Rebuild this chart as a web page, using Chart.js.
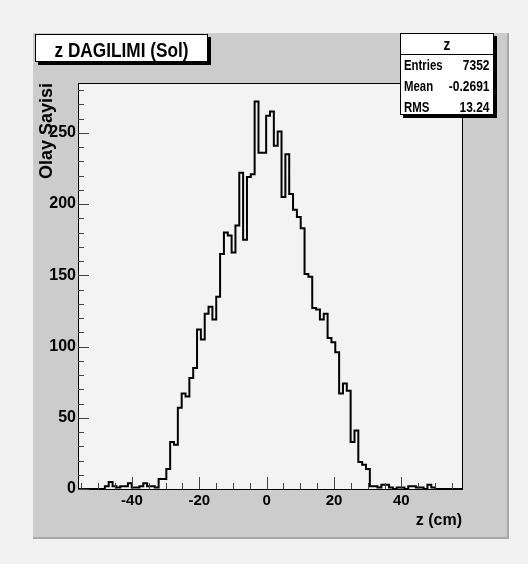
<!DOCTYPE html>
<html><head><meta charset="utf-8">
<script src="https://cdn.jsdelivr.net/npm/chart.js@4.4.0/dist/chart.umd.min.js"></script>
<style>html,body{margin:0;padding:0;background:#f2f2f2;}#wrap{width:528px;height:564px;}</style>
</head><body><div id="wrap"><canvas id="c" width="528" height="564"></canvas></div>
<script>
const histTitle = 'z DAGILIMI (Sol)';
const xAxisTitle = 'z (cm)';
const yAxisTitle = 'Olay Sayisi';
const xMin = -56, xMax = 58, nBins = 100;
const yMin = 0, yMax = 285;
const binCounts = [
  0,0,0,0,0,0,0,2,5,2,
  1,2,2,4,1,1,2,4,2,2,
  1,7,7,14,33,31,57,67,65,78,
  85,112,105,123,128,119,135,165,180,178,
  166,185,222,175,219,221,272,236,236,262,
  265,241,251,205,235,207,196,191,183,151,
  149,127,126,119,123,106,103,96,67,74,
  69,33,41,19,17,14,2,2,1,3,
  3,1,0,1,1,0,2,2,1,1,
  0,3,1,0,0,0,0,0,0,0
];
const xTickValues = [-40, -20, 0, 20, 40];
const yTickValues = [0, 50, 100, 150, 200, 250];
const xMinorStep = 5, yMinorStep = 10;
const statsName = 'z';
const statsLabels = ['Entries', 'Mean', 'RMS'];
const statsValues = ['7352', '-0.2691', '13.24'];

const FONT = "'Liberation Sans', Arial, Helvetica, sans-serif";
const binWidth = (xMax - xMin) / nBins;
const points = binCounts.map((v, i) => ({x: xMin + i * binWidth, y: v}));
points.push({x: xMax, y: binCounts[binCounts.length - 1]});

function condensedText(ctx, text, x, y, size, sx, align) {
  ctx.save();
  ctx.font = 'bold ' + size + 'px ' + FONT;
  ctx.textAlign = align;
  ctx.textBaseline = 'alphabetic';
  ctx.translate(x, y);
  ctx.scale(sx, 1);
  ctx.fillStyle = '#000';
  ctx.fillText(text, 0, 0);
  ctx.restore();
}

const rootStyle = {
  id: 'rootStyle',
  beforeDraw(chart) {
    const ctx = chart.ctx, a = chart.chartArea;
    ctx.save();
    ctx.fillStyle = '#f2f2f2';
    ctx.fillRect(0, 0, chart.width, chart.height);
    ctx.fillStyle = '#cccccc';
    ctx.fillRect(33, 33, 476, 506);
    ctx.fillStyle = '#a8a8a8';
    ctx.fillRect(507, 33, 2, 506);
    ctx.fillRect(33, 537, 476, 2);
    ctx.fillStyle = '#f3f3f3';
    ctx.fillRect(a.left, a.top, a.right - a.left, a.bottom - a.top);
    ctx.restore();
  },
  afterDraw(chart) {
    const ctx = chart.ctx, a = chart.chartArea;
    const xs = chart.scales.x, ys = chart.scales.y;
    ctx.save();
    ctx.strokeStyle = '#000';
    ctx.lineWidth = 1;
    ctx.beginPath();
    ctx.moveTo(a.left, a.top + 0.5); ctx.lineTo(a.right + 0.5, a.top + 0.5); ctx.lineTo(a.right + 0.5, a.bottom);
    ctx.stroke();
    ctx.strokeStyle = '#444';
    ctx.beginPath();
    for (let v = yMin; v < yMax; v += yMinorStep) {
      const y = Math.round(ys.getPixelForValue(v)) + 0.5;
      const len = yTickValues.includes(v) ? 11 : 6;
      ctx.moveTo(a.left, y); ctx.lineTo(a.left + len, y);
    }
    for (let v = -55; v < xMax; v += xMinorStep) {
      const x = Math.round(xs.getPixelForValue(v)) + 0.5;
      const len = xTickValues.includes(v) ? 12 : 6;
      ctx.moveTo(x, a.bottom); ctx.lineTo(x, a.bottom - len);
    }
    ctx.stroke();
    // title box
    ctx.fillStyle = '#000';
    ctx.fillRect(38, 62, 173, 3);
    ctx.fillRect(208, 37, 3, 28);
    ctx.fillStyle = '#fff';
    ctx.fillRect(35, 34, 173, 28);
    ctx.strokeStyle = '#000';
    ctx.strokeRect(35.5, 34.5, 172, 27);
    condensedText(ctx, histTitle, 121.5, 57, 21, 0.82, 'center');
    // stats box
    ctx.fillStyle = '#000';
    ctx.fillRect(403, 115, 94, 3);
    ctx.fillRect(494, 36, 3, 82);
    ctx.fillStyle = '#fff';
    ctx.fillRect(400, 33, 94, 82);
    ctx.strokeStyle = '#000';
    ctx.strokeRect(400.5, 33.5, 93, 81);
    ctx.beginPath(); ctx.moveTo(400, 54.5); ctx.lineTo(494, 54.5); ctx.stroke();
    condensedText(ctx, statsName, 447, 50, 16, 0.85, 'center');
    statsLabels.forEach((lab, i) => {
      const by = 70 + i * 21;
      condensedText(ctx, lab, 404, by, 15, 0.76, 'left');
      condensedText(ctx, statsValues[i], 489.5, by, 15, 0.8, 'right');
    });
    ctx.restore();
  }
};

new Chart(document.getElementById('c'), {
  type: 'line',
  data: {datasets: [{
    data: points, stepped: true, borderColor: '#000', borderWidth: 2,
    pointRadius: 0, fill: false, tension: 0
  }]},
  options: {
    responsive: false, animation: false, devicePixelRatio: 1,
    layout: {padding: {left: 34, right: 66, top: 83, bottom: 26}},
    plugins: {legend: {display: false}, tooltip: {enabled: false}, title: {display: false}},
    scales: {
      x: {
        type: 'linear', min: xMin, max: xMax,
        afterFit(s) { s.height = 49; },
        afterBuildTicks(s) { s.ticks = xTickValues.map(v => ({value: v})); },
        ticks: {autoSkip: false, maxRotation: 0, padding: 3, color: '#000',
                font: {family: FONT, weight: 'bold', size: 15}},
        grid: {display: false, drawTicks: false},
        border: {display: true, color: '#000', width: 1},
        title: {display: true, text: xAxisTitle, align: 'end', color: '#000',
                font: {family: FONT, weight: 'bold', size: 16}, padding: {top: 0, bottom: 8}}
      },
      y: {
        type: 'linear', min: yMin, max: yMax,
        afterFit(s) { s.width = 44; },
        afterBuildTicks(s) { s.ticks = yTickValues.map(v => ({value: v})); },
        ticks: {autoSkip: false, padding: 2, color: '#000',
                font: {family: FONT, weight: 'bold', size: 16}},
        grid: {display: false, drawTicks: false},
        border: {display: true, color: '#000', width: 1},
        title: {display: true, text: yAxisTitle, align: 'end', color: '#000',
                font: {family: FONT, weight: 'bold', size: 18}, padding: {top: 2, bottom: 0}}
      }
    }
  },
  plugins: [rootStyle]
});
</script></body></html>
